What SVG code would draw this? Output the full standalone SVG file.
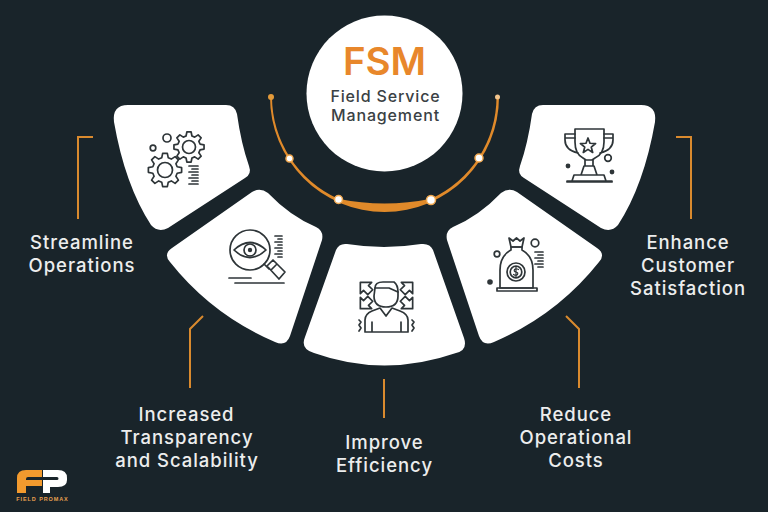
<svg xmlns="http://www.w3.org/2000/svg" xmlns:xlink="http://www.w3.org/1999/xlink" width="768" height="512" viewBox="0 0 768 512">
<style>
.card{fill:#fff}
.label{font-family:"Inter","Noto Sans","Liberation Sans",sans-serif;font-weight:500;font-size:18.5px;letter-spacing:.95px;fill:#eceded;text-anchor:middle}
.sub{font-family:"Inter","Noto Sans","Liberation Sans",sans-serif;font-weight:500;font-size:16px;letter-spacing:.85px;fill:#3a4144;text-anchor:middle}
.ic{fill:none;stroke:#2e3538;stroke-width:1.7;stroke-linecap:round;stroke-linejoin:round}
.icf{fill:#2e3538}
.conn{fill:none;stroke:#d98a2e;stroke-width:2}
.dot{fill:#fff;stroke:#f0a850;stroke-width:1.5}
</style>
<defs>
<polygon id="gear" points="15.84,2.23 11.59,3.11 10.39,6 12.78,9.63 9.63,12.78 6,10.39 3.11,11.59 2.23,15.84 -2.23,15.84 -3.11,11.59 -6,10.39 -9.63,12.78 -12.78,9.63 -10.39,6 -11.59,3.11 -15.84,2.23 -15.84,-2.23 -11.59,-3.11 -10.39,-6 -12.78,-9.63 -9.63,-12.78 -6,-10.39 -3.11,-11.59 -2.23,-15.84 2.23,-15.84 3.11,-11.59 6,-10.39 9.63,-12.78 12.78,-9.63 10.39,-6 11.59,-3.11 15.84,-2.23"/>
<path id="arw" d="M0 -8 L8 0 L3.500 0 L3.500 6 L-3.500 6 L-3.500 0 L-8 0 Z"/>
</defs>
<rect width="768" height="512" fill="#19242a"/>

<g id="connectors">
<path class="conn" d="M93 137H78V219"/>
<path class="conn" d="M203 316L190 329V388"/>
<path class="conn" d="M384 379V418"/>
<path class="conn" d="M566 316L579 329V388"/>
<path class="conn" d="M676 137H691V219"/>
</g>

<g id="arc">
<path d="M270 97A114.500 115 0 0 0 499 97L496.500 97A112.500 112 0 0 1 431 198.700Q384.500 208.300 338 198.700A112.500 112 0 0 1 272 97Z" fill="#e08a2a"/>
<circle cx="271" cy="97" r="3" fill="#e39a3a"/>
<circle cx="497.500" cy="97" r="2.500" fill="#f3c58d"/>
<circle class="dot" cx="289.500" cy="158.500" r="3.500"/>
<circle class="dot" cx="338.500" cy="199.500" r="4"/>
<circle class="dot" cx="431" cy="200" r="4.500"/>
<circle class="dot" cx="479" cy="158" r="4"/>
</g>

<g id="node-fsm">
<circle cx="384.500" cy="93.500" r="78" fill="#fff"/>
<text x="384.500" y="75" text-anchor="middle" font-family="Inter,'Noto Sans','Liberation Sans',sans-serif" font-weight="600" font-size="38.500" fill="#e8872b">FSM</text>
<text class="sub" x="385.500" y="102">Field Service</text>
<text class="sub" x="385.500" y="121">Management</text>
</g>

<g id="node-streamline">
<path class="card" d="M128 105L226 105Q235 105 237 114Q241 143 249 166Q252 174 245 178L168 228Q158 233 151 225Q125 185 114 122Q112 105 128 105Z"/>
<use href="#gear" class="ic" transform="translate(165 170) scale(1.05)" style="stroke-width:1.600"/>
<circle class="ic" cx="165" cy="170" r="7.500"/>
<use href="#gear" class="ic" transform="translate(189 147) scale(.95)" style="stroke-width:1.800"/>
<circle class="ic" cx="189" cy="147" r="6.500"/>
<circle class="ic" cx="167" cy="138" r="4"/>
<circle class="ic" cx="153" cy="148" r="2.800"/>
<path class="ic" d="M189 166H198M192 169H198M189 172H198M192 175H198M189 178H198M192 181H198M189 184H198"/>
<text class="label" x="82" y="248.500">Streamline</text>
<text class="label" x="82" y="271.500">Operations</text>
</g>

<g id="node-transparency">
<path class="card" d="M252 192Q260 187 268 193Q290 216 316 227Q324 231 322 240L290 336Q286 347 275 342Q212 315 170 262Q163 254 172 248Z"/>
<circle class="ic" cx="250" cy="250" r="20"/>
<path class="ic" d="M234 250Q250 235 266 250Q250 265 234 250Z"/>
<circle class="ic" cx="250" cy="250" r="6"/>
<circle class="icf" cx="250" cy="250" r="2.200"/>
<path class="ic" d="M264 264L269 269M267 266L273 260L285 272L279 279L267 266M271 270L276 265"/>
<path class="ic" d="M229 278H251M235 283H284"/>
<path class="ic" d="M275 236H282M278 239H282M275 242H282M278 245H282M275 248H282M278 251H282M275 254H282M278 257H282"/>
<text class="label" x="186.500" y="420.500">Increased</text>
<text class="label" x="187" y="443.500">Transparency</text>
<text class="label" x="187" y="466.500">and Scalability</text>
</g>

<g id="node-efficiency">
<path class="card" d="M347 244Q384 250 421 244Q430 243 433 250L464 338Q468 350 456 353Q384 378 314 353Q300 349 305 337L336 250Q339 243 347 244Z"/>
<path class="ic" d="M375 288Q375 282 383 282H394Q398 285 398 292V296Q398 307 386 307Q374 307 374 296Z"/>
<path class="ic" d="M375 288H389L398 292"/>
<path class="ic" d="M365 332V320Q365 314 372 311L380 308L386 316L392 308L400 311Q408 314 408 320V332ZM372 322V332M401 322V332"/>
<use href="#arw" class="ic" transform="translate(366 288) rotate(-45)"/>
<use href="#arw" class="ic" transform="translate(407 288) rotate(45)"/>
<use href="#arw" class="ic" transform="translate(366 303) rotate(-135)"/>
<use href="#arw" class="ic" transform="translate(407 303) rotate(135)"/>
<path class="ic" d="M359 320L361 322L359 325L361 328L359 331M412 320L414 322L412 325L414 328L412 331"/>
<text class="label" x="384.500" y="448.500">Improve</text>
<text class="label" x="384.500" y="471.500">Efficiency</text>
</g>

<g id="node-costs">
<path class="card" transform="matrix(-1 0 0 1 769 0)" d="M252 192Q260 187 268 193Q290 216 316 227Q324 231 322 240L290 336Q286 347 275 342Q212 315 170 262Q163 254 172 248Z"/>
<path class="ic" d="M509 238L513 241L516.500 238L520 241L524 238L522 247H511Z"/>
<path class="ic" d="M511 247H522V250Q533 256 533 270V288H500V270Q500 256 511 250Z"/>
<path class="ic" d="M497 288H537V291H497Z"/>
<circle class="ic" cx="516" cy="272" r="9"/>
<circle class="ic" cx="516" cy="272" r="5.800"/>
<path class="ic" d="M518.500 269.500Q516 268 514.500 269.500Q513.500 271.500 516 272Q518.500 272.500 517.500 274.500Q516 276 513.500 274.500M516 267V277" style="stroke-width:1.200"/>
<circle class="ic" cx="535" cy="243" r="3.800"/>
<circle class="ic" cx="497" cy="254" r="2.800"/>
<circle class="icf" cx="490" cy="282" r="2.800"/>
<path class="ic" d="M535 252H543M538 255H543M535 258H543M538 261H543M535 264H543M538 267H543"/>
<text class="label" x="576" y="420.500">Reduce</text>
<text class="label" x="576" y="443.500">Operational</text>
<text class="label" x="576" y="466.500">Costs</text>
</g>

<g id="node-satisfaction">
<path class="card" transform="matrix(-1 0 0 1 769 0)" d="M128 105L226 105Q235 105 237 114Q241 143 249 166Q252 174 245 178L168 228Q158 233 151 225Q125 185 114 122Q112 105 128 105Z"/>
<path class="ic" d="M575 129H604V142Q604 154 595 158L592 160H586L583 158Q575 154 575 142Z"/>
<path class="ic" d="M575 134H565V140Q565 150 578 153M604 134H613V140Q613 150 600 153M565 138H575M604 138H613"/>
<path class="ic" d="M585 160V166H593V160M584 166H594L597 175H581ZM574 175H604L606 181H572ZM567 181H612V182H567Z"/>
<path class="ic" d="M588 138L590 143.250L595.600 143.530L591.230 147.050L592.700 152.470L588 149.400L583.300 152.470L584.770 147.050L580.400 143.530L586 143.250Z"/>
<circle class="ic" cx="608" cy="158" r="3.300"/>
<circle class="icf" cx="568" cy="166" r="2.400"/>
<circle class="icf" cx="612" cy="172" r="2.400"/>
<text class="label" x="688" y="248.500">Enhance</text>
<text class="label" x="688" y="271.500">Customer</text>
<text class="label" x="688" y="294.500">Satisfaction</text>
</g>

<g id="logo">
<path fill="#f29a2e" d="M17 493V478Q17 470 26 470H42V477H28Q26 477 26 479V480H42V486H26V493Z"/>
<path fill="#fff" d="M43 470H58Q67 470 67 478V480Q67 487 58 487H50V493H43V480H57Q58.500 480 58.500 478.500Q58.500 477 57 477H43Z"/>
<text x="42.500" y="501" text-anchor="middle" font-family="'Liberation Sans',sans-serif" font-weight="700" font-size="5.500" letter-spacing=".9" fill="#e8a050">FIELD PROMAX</text>
</g>
</svg>
